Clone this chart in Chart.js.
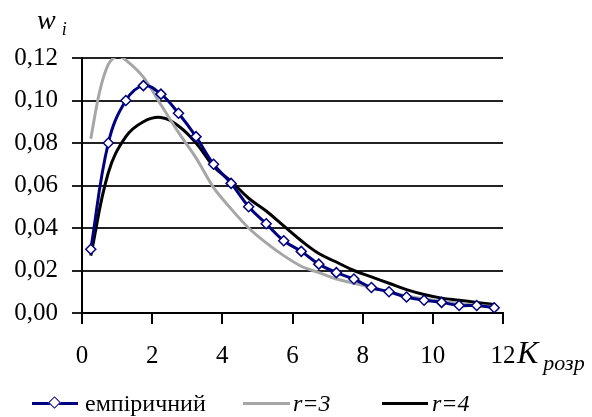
<!DOCTYPE html>
<html>
<head>
<meta charset="utf-8">
<script src="https://cdn.jsdelivr.net/npm/chart.js@4.4.0/dist/chart.umd.min.js"></script>
<style>
  body { margin: 0; background: #fff; }
  #wrap { position: relative; width: 592px; height: 417px; overflow: hidden; font-family: "Liberation Serif", "Times New Roman", serif; color: #000; }
  #chart { position: absolute; left: 0; top: 0; }
  .txt { position: absolute; white-space: nowrap; line-height: 1; }
  .it { font-style: italic; }
  .leg-line { position: absolute; height: 3px; }
  .diamond { position: absolute; width: 7px; height: 7px; background: #fff; border: 1.5px solid #000080; transform: rotate(45deg); }
</style>
</head>
<body>
<div id="wrap">
  <canvas id="chart" width="592" height="417"></canvas>

  <!-- подписи осей -->
  <div class="txt it" style="left:37px; top:6px; font-size:28px;">w<span style="font-size:18px; position:relative; top:6px; left:6px;">i</span></div>
  <div class="txt it" style="left:517px; top:336px; font-size:32px;">K<span style="font-size:22px; position:relative; top:7px; left:5px;">розр</span></div>

  <!-- легенда -->
  <div class="leg-line" style="left:32px; top:402px; width:46px; background:#000080;"></div>
  <div class="diamond" style="left:50px; top:398px;"></div>
  <div class="txt" style="left:85px; top:391px; font-size:24px;">емпіричний</div>
  <div class="leg-line" style="left:243px; top:402px; width:47px; background:#a6a6a6;"></div>
  <div class="txt it" style="left:293px; top:391px; font-size:24px;">r=3</div>
  <div class="leg-line" style="left:382px; top:402px; width:46px; background:#000;"></div>
  <div class="txt it" style="left:432px; top:391px; font-size:24px;">r=4</div>
</div>

<script>
// ------------------- дані -------------------
const kRozr = [0.25, 0.75, 1.25, 1.75, 2.25, 2.75, 3.25, 3.75, 4.25, 4.75, 5.25, 5.75,
               6.25, 6.75, 7.25, 7.75, 8.25, 8.75, 9.25, 9.75, 10.25, 10.75, 11.25, 11.75];

const empirical = [0.030, 0.080, 0.100, 0.107, 0.103, 0.094, 0.083, 0.070, 0.061, 0.050, 0.042, 0.034,
                   0.029, 0.023, 0.019, 0.016, 0.012, 0.010, 0.0075, 0.006, 0.005, 0.0035, 0.0035, 0.0025];

// теоретична крива r=3 — біля піку читалась частіше
const kR3 = [0.25, 0.5, 0.75, 1.0, 1.25, 1.75, 2.25, 2.75, 3.25, 3.75, 4.25, 4.75, 5.25, 5.75,
             6.25, 6.75, 7.25, 7.75, 8.25, 8.75, 9.25, 9.75, 10.25, 10.75, 11.25, 11.75];
const r3 = [0.082, 0.104, 0.117, 0.121, 0.119, 0.111, 0.098, 0.085, 0.073, 0.059, 0.049, 0.040, 0.033, 0.027,
            0.022, 0.019, 0.016, 0.014, 0.012, 0.010, 0.008, 0.0066, 0.0055, 0.0045, 0.0037, 0.003];

const r4 = [0.027, 0.066, 0.083, 0.090, 0.092, 0.088, 0.080, 0.069, 0.062, 0.054, 0.048, 0.041,
            0.034, 0.028, 0.024, 0.020, 0.017, 0.014, 0.011, 0.0087, 0.007, 0.006, 0.005, 0.004];

const xTicks = [0, 2, 4, 6, 8, 10, 12];
const yTicks = [0, 0.02, 0.04, 0.06, 0.08, 0.10, 0.12];

// точки для chart.js
const toPoints = (xs, ys) => ys.map((y, i) => ({ x: xs[i], y: y }));

const tickFont = { family: '"Liberation Serif", "Times New Roman", serif', size: 25 };

new Chart(document.getElementById('chart'), {
  type: 'line',
  data: {
    datasets: [
      {
        label: 'емпіричний',
        data: toPoints(kRozr, empirical),
        borderColor: '#000080',
        borderWidth: 3,
        pointStyle: 'rectRot',
        pointRadius: 5,
        pointBackgroundColor: '#fff',
        pointBorderColor: '#000080',
        pointBorderWidth: 1.5,
        tension: 0.4,
      },
      {
        label: 'r=3',
        data: toPoints(kR3, r3),
        borderColor: '#a6a6a6',
        borderWidth: 3,
        pointRadius: 0,
        tension: 0.3,
      },
      {
        label: 'r=4',
        data: toPoints(kRozr, r4),
        borderColor: '#000',
        borderWidth: 3,
        pointRadius: 0,
        tension: 0.4,
      }
    ]
  },
  options: {
    responsive: false,
    animation: false,
    devicePixelRatio: 1,
    layout: { padding: { left: 0, right: 89, top: 58, bottom: 0 } },
    plugins: { legend: { display: false }, tooltip: { enabled: false } },
    scales: {
      x: {
        type: 'linear',
        min: 0,
        max: 12,
        afterBuildTicks: (s) => { s.ticks = xTicks.map(v => ({ value: v })); },
        afterFit: (s) => { s.height = 104; },
        grid: { drawOnChartArea: false, drawTicks: true, tickLength: 11, color: '#000', lineWidth: 2 },
        border: { display: true, color: '#000', width: 2 },
        ticks: { color: '#000', font: tickFont, padding: 17, maxRotation: 0 }
      },
      y: {
        min: 0,
        max: 0.12,
        afterBuildTicks: (s) => { s.ticks = yTicks.map(v => ({ value: v })); },
        afterFit: (s) => { s.width = 82; },
        grid: { color: '#222', lineWidth: 2, tickLength: 10 },
        border: { display: true, color: '#000', width: 2 },
        ticks: {
          color: '#000',
          font: tickFont,
          padding: 14,
          callback: (v) => v.toFixed(2).replace('.', ',')
        }
      }
    }
  }
});
</script>
</body>
</html>
